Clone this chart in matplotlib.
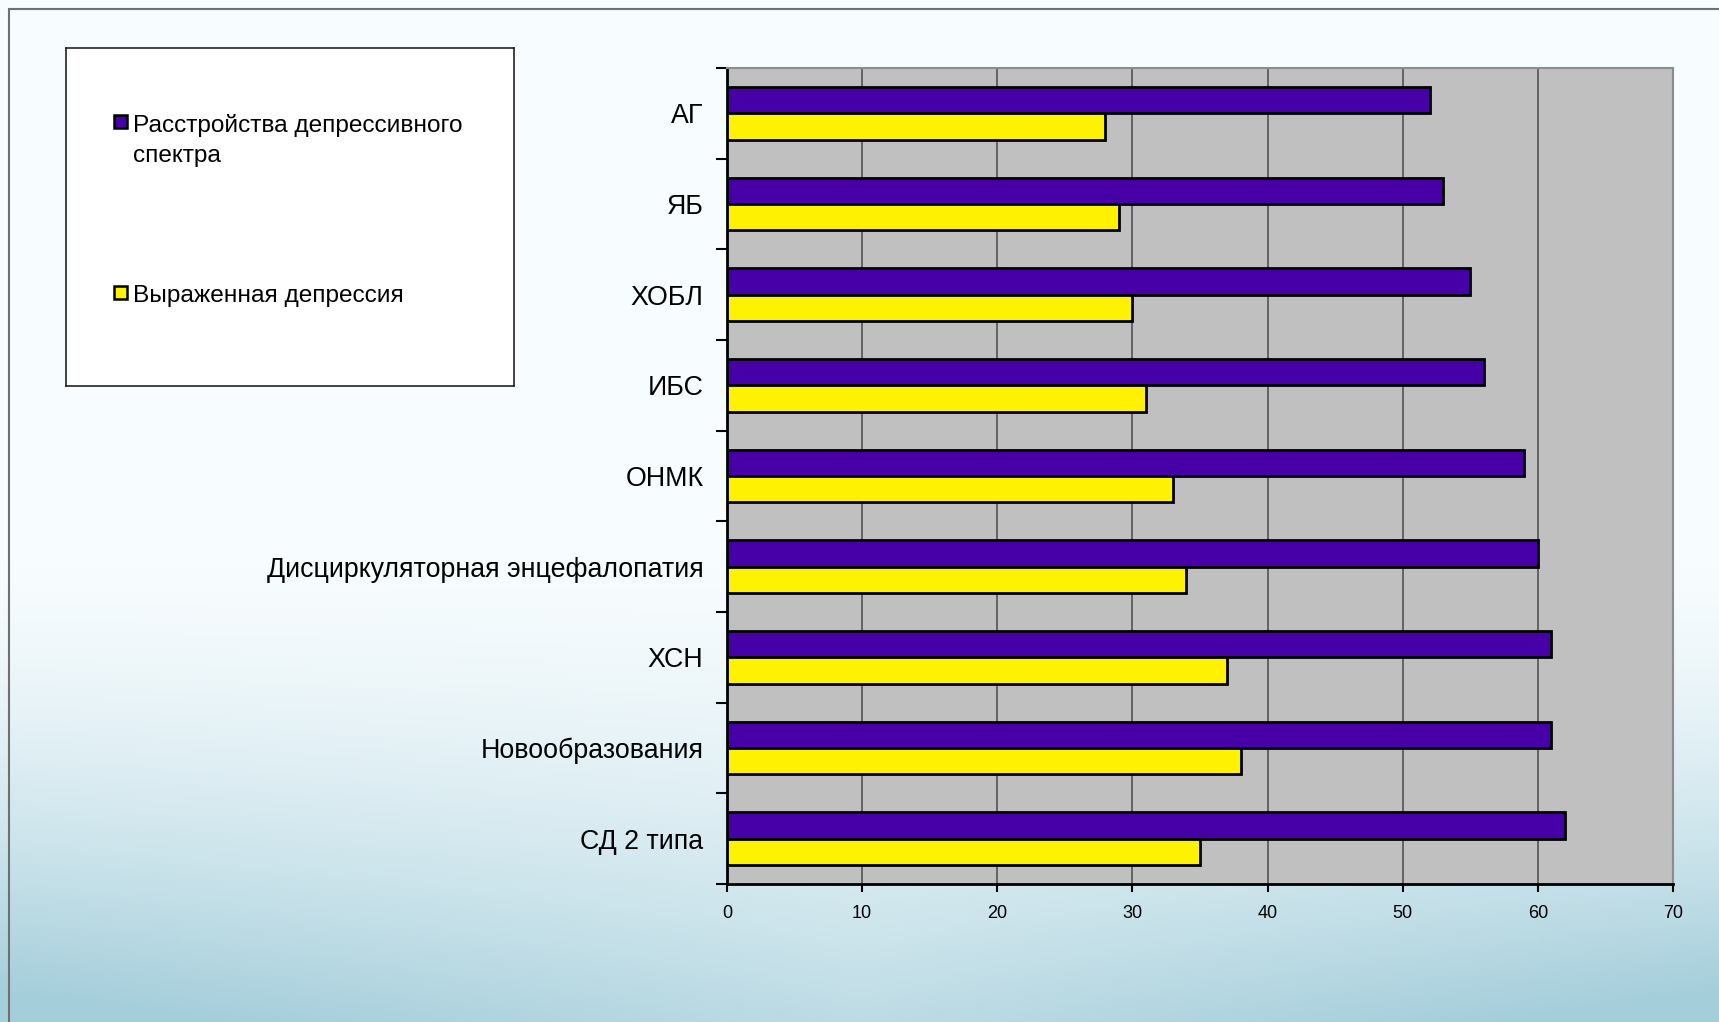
import numpy as np
import matplotlib
matplotlib.use("Agg")
import matplotlib.pyplot as plt
from matplotlib.patches import Rectangle
from matplotlib.lines import Line2D

plt.rcParams['font.family'] = ['Liberation Sans', 'DejaVu Sans']

categories = ["АГ", "ЯБ", "ХОБЛ", "ИБС", "ОНМК",
              "Дисциркуляторная энцефалопатия", "ХСН", "Новообразования", "СД 2 типа"]
spectrum = [52, 53, 55, 56, 59, 60, 61, 61, 62]
severe = [28, 29, 30, 31, 33, 34, 37, 38, 35]
series_names = ["Расстройства депрессивного\nспектра", "Выраженная депрессия"]
purple = "#4700a8"
yellow = "#fff200"

W, H = 1719, 1022
fig = plt.figure(figsize=(W / 100, H / 100), dpi=100)

# slide background: near white, fading to pale blue at the bottom
bg = fig.add_axes([0, 0, 1, 1], zorder=-10)
yy, xx = np.mgrid[0:1:300j, 0:1:500j]
w = np.clip((yy - 0.55) / 0.45, 0, 1) ** 1.5
w = w * (0.7 + 0.5 * np.abs(xx - 0.5) * 1.6)
w = np.clip(w, 0, 1)
top = np.array([247, 252, 254]) / 255
bot = np.array([165, 206, 219]) / 255
img = top[None, None, :] * (1 - w[..., None]) + bot[None, None, :] * w[..., None]
bg.imshow(img, aspect='auto', extent=[0, 1, 1, 0])
bg.set_xlim(0, 1)
bg.set_ylim(1, 0)
bg.axis('off')

# thin slide frame
fig.add_artist(Line2D([9 / W, 9 / W], [0, 1 - 9 / H], transform=fig.transFigure,
                      color='#707070', lw=1.5))
fig.add_artist(Line2D([9 / W, 1], [1 - 9 / H, 1 - 9 / H], transform=fig.transFigure,
                      color='#707070', lw=1.5))

ax = fig.add_axes([727 / W, 1 - 884 / H, (1673 - 727) / W, (884 - 68) / H])
ax.set_facecolor('#c0c0c0')
y = np.arange(len(categories))
h = 0.29
ax.barh(y - h / 2, spectrum, height=h, color=purple, edgecolor='black', linewidth=2, zorder=3)
ax.barh(y + h / 2, severe, height=h, color=yellow, edgecolor='black', linewidth=2, zorder=3)
ax.set_xlim(0, 70)
ax.set_ylim(len(categories) - 0.5, -0.5)
ax.set_xticks(range(0, 71, 10))
ax.xaxis.grid(True, color='#5c5c5c', lw=1.3, zorder=1)
ax.set_axisbelow(True)

ax.set_yticks(np.arange(-0.5, len(categories)), [''] * (len(categories) + 1))
ax.set_yticks(y, categories, minor=True)
ax.tick_params(axis='y', which='major', length=8, width=1.5, direction='out')
ax.tick_params(axis='y', which='minor', length=0, pad=17, labelsize=19.3)
ax.tick_params(axis='x', length=6, width=1.5, pad=9, labelsize=13)

for s in ['left', 'bottom']:
    ax.spines[s].set_color('black')
    ax.spines[s].set_linewidth(2)
for s in ['top', 'right']:
    ax.spines[s].set_color('#8c8c8c')
    ax.spines[s].set_linewidth(1.5)

# legend box
lx, ly, lw_, lh = 66, 48, 448, 338
lg = fig.add_axes([lx / W, 1 - (ly + lh) / H, lw_ / W, lh / H])
lg.set_facecolor('white')
lg.set_xlim(0, lw_)
lg.set_ylim(lh, 0)
lg.set_xticks([])
lg.set_yticks([])
for s in lg.spines.values():
    s.set_color('#222222')
    s.set_linewidth(1.2)

entries = [(series_names[0], purple, 67), (series_names[1], yellow, 238)]
for label, col, top_y in entries:
    lg.add_patch(Rectangle((48, top_y), 13, 13, facecolor=col, edgecolor='black', lw=1.8))
    lg.text(67, top_y - 1, label, fontsize=17.6, va='top', ha='left', linespacing=1.45)

fig.savefig("out.png", dpi=100)
